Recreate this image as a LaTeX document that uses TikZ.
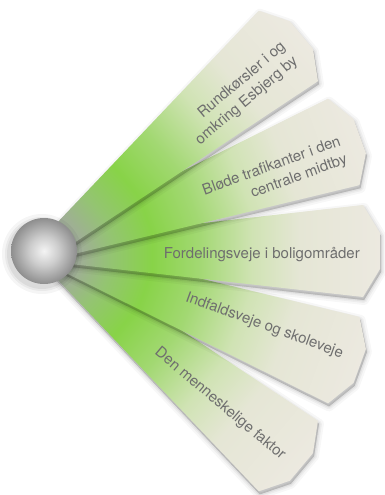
\documentclass[tikz,border=0pt]{standalone}
\usepackage{fontspec}
\setmainfont{TeX Gyre Heros}
\usepackage{xcolor}
\usepackage{tikz}
\usetikzlibrary{calc}
\definecolor{bl0}{HTML}{A4A7A0}
\definecolor{bl1}{HTML}{A0AD98}
\definecolor{bl2}{HTML}{94C472}
\definecolor{bl3}{HTML}{88D348}
\definecolor{bl4}{HTML}{A2D872}
\definecolor{bl5}{HTML}{D0E3B4}
\definecolor{bl6}{HTML}{E5E6D5}
\definecolor{bl7}{HTML}{ECE9E0}
\definecolor{hubhi}{HTML}{F4F4F4}
\definecolor{hubmid}{HTML}{CDCDCD}
\definecolor{hubrim}{HTML}{8E8E8E}
\definecolor{labelgrey}{HTML}{6E6E6E}
\pgfdeclarehorizontalshading{bladeshade}{100bp}{color(0bp)=(bl0); color(25bp)=(bl0);
  color(30bp)=(bl1); color(35bp)=(bl2); color(41bp)=(bl3); color(48bp)=(bl4);
  color(56bp)=(bl5); color(63bp)=(bl6); color(75bp)=(bl7); color(100bp)=(bl7)}
\pgfdeclareradialshading{hubshade}{\pgfpoint{0bp}{0bp}}{color(0bp)=(hubhi);
  color(11bp)=(hubmid); color(25bp)=(hubrim); color(50bp)=(hubrim)}
\tikzset{
  bladeoutline/.style={insert path={(0,-10) -- (319,-46) -- (336,-18) -- (336,18)
    -- (319,46) -- (0,10) -- cycle}},
  bladefill/.style={bladeoutline,shading=bladeshade},
  bladeshadow/.style={bladeoutline,black,line join=round},
  hub/.style={circle,minimum size=66pt,inner sep=0pt,shading=hubshade},
  lbl/.style={font=\fontsize{15}{19}\selectfont,text=labelgrey,align=right,inner sep=0pt},
}

\begin{document}
\begin{tikzpicture}[x=1pt,y=1pt]
  \useasboundingbox (0,0) rectangle (384,-495);
  \coordinate (c) at (44,-251);
  % blades, lowest first so the upper ones lie on top
  \foreach \ang/\dv/\txt [count=\i] in {
      -40/-4/{Den menneskelige faktor},
      -20/5/{Indfaldsveje og skoleveje},
      0/-3/{Fordelingsveje i boligområder},
      20/-8/{Bløde trafikanter i den\\centrale midtby},
      40/-6/{Rundkørsler i og\\omkring Esbjerg by}}{
    \begin{scope}[shift={(45,-254)},rotate=\ang]
      \foreach \w/\op in {10/0.03,6/0.04,3/0.05,0.5/0.06}
        \filldraw[bladeshadow,opacity=\op,line width=\w pt];
    \end{scope}
    \begin{scope}[transform canvas={shift={(44pt,-251pt)},rotate=\ang}]
      \shade[bladefill];
    \end{scope}
    \path (c) ++(\ang:316) ++(\ang+90:\dv) node[lbl,rotate=\ang,anchor=east] (t\i) {\txt};
  }
  % the ball in the middle
  \foreach \r/\op in {40/0.04,37/0.05,35/0.06}
    \fill[black,opacity=\op] (42,-254) circle (\r);
  \node[hub] (ball) at (c) {};
\end{tikzpicture}
\end{document}
